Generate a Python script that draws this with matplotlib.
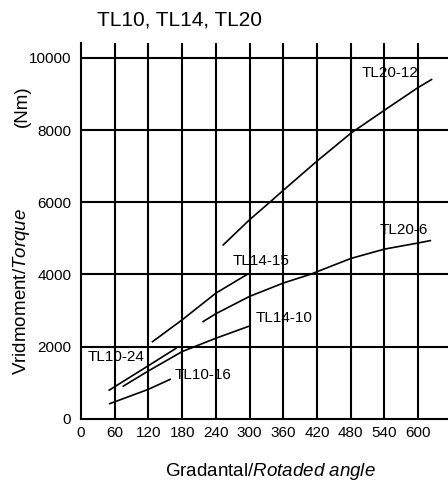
import matplotlib.pyplot as plt

plt.rcParams['font.family'] = ['Liberation Sans', 'DejaVu Sans']
plt.rcParams['mathtext.fontset'] = 'custom'
plt.rcParams['mathtext.rm'] = 'Liberation Sans'
plt.rcParams['mathtext.it'] = 'Liberation Sans:italic'

# curves (rotated angle in degrees, torque in Nm)
tl20_12_x = [252, 300, 336, 360, 420, 480, 540, 600, 625]
tl20_12_y = [4800, 5515, 6000, 6330, 7140, 7910, 8550, 9180, 9410]

tl20_6_x = [216, 240, 300, 360, 408, 480, 540, 600, 623]
tl20_6_y = [2680, 2910, 3390, 3760, 4000, 4440, 4700, 4870, 4940]

tl14_15_x = [126, 180, 240, 270, 298]
tl14_15_y = [2120, 2740, 3480, 3760, 4020]

tl14_10_x = [74, 120, 180, 240, 301]
tl14_10_y = [890, 1325, 1860, 2230, 2575]

tl10_24_x = [49, 120, 170]
tl10_24_y = [780, 1470, 1960]

tl10_16_x = [50, 120, 160]
tl10_16_y = [410, 815, 1100]

# label text and where it sits (left edge, centre)
labels = ['TL20-12', 'TL20-6', 'TL14-15', 'TL14-10', 'TL10-24', 'TL10-16']
label_x = [500, 531, 269, 310, 11, 167]
label_y = [9590, 5240, 4360, 2800, 1720, 1215]

x_ticks = [0, 60, 120, 180, 240, 300, 360, 420, 480, 540, 600]
y_ticks = [0, 2000, 4000, 6000, 8000, 10000]

fig = plt.figure(figsize=(4.48, 4.83), dpi=100)
ax = fig.add_axes([81/448, 64.3/483, 1 - 81/448, 376/483])

for xs, ys in [(tl20_12_x, tl20_12_y), (tl20_6_x, tl20_6_y),
               (tl14_15_x, tl14_15_y), (tl14_10_x, tl14_10_y),
               (tl10_24_x, tl10_24_y), (tl10_16_x, tl10_16_y)]:
    ax.plot(xs, ys, color='black', linewidth=1.2, solid_capstyle='butt')

for t, lx, ly in zip(labels, label_x, label_y):
    ax.text(lx, ly, t, fontsize=11, ha='left', va='center')

for v in x_ticks[1:]:
    ax.axvline(v, color='black', linewidth=1.5, zorder=0)
for v in y_ticks[1:]:
    ax.axhline(v, color='black', linewidth=1.5, zorder=0)

ax.set_xlim(0, 653)
ax.set_ylim(0, 10420)
ax.set_xticks(x_ticks)
ax.set_yticks(y_ticks)
ax.tick_params(length=0, labelsize=11, pad=5)
ax.tick_params(axis='y', pad=7)
for s in ['top', 'right']:
    ax.spines[s].set_visible(False)
for s in ['left', 'bottom']:
    ax.spines[s].set_linewidth(1.5)

fig.text(97/448, 1 - 20/483, 'TL10, TL14, TL20', fontsize=15, ha='left', va='center')
fig.text(270/448, 1 - 472/483, 'Gradantal/$\\it{Rotaded\\ angle}$', fontsize=13.5,
         ha='center', va='center')
fig.text(22/448, 1 - 292/483, 'Vridmoment/$\\it{Torque}$', fontsize=13.5,
         rotation=90, ha='center', va='center')
fig.text(22/448, 1 - 106/483, '(Nm)', fontsize=13.5, rotation=90, ha='center', va='center')

fig.savefig('out.png', dpi=100)
